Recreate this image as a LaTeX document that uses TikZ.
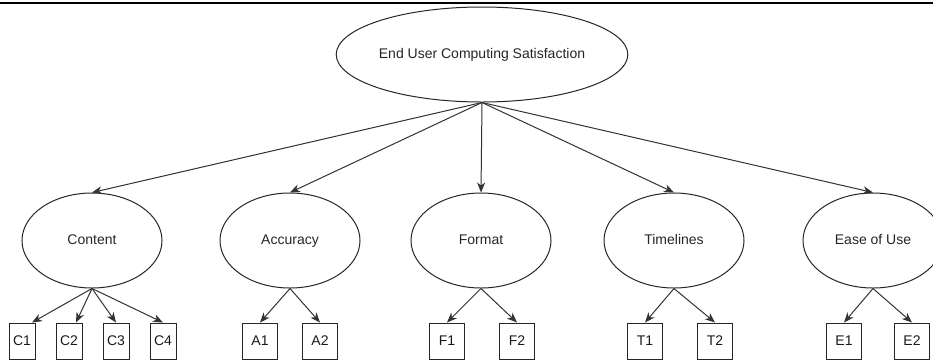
\documentclass[tikz,border=0pt]{standalone}
\usepackage{fontspec}
\setmainfont{Liberation Sans}
\usepackage{tikz}
\usetikzlibrary{arrows.meta,positioning,shapes.geometric}
\tikzset{
    >={Stealth[length=10pt,width=8pt,inset=3pt]},
    konstrukt/.style={
           ellipse,
           draw=black!85, line width=1pt,
           minimum width=140pt,
           minimum height=95pt,
           inner sep=0pt,
           text height=10pt, text depth=3pt,
           font=\fontsize{14}{16}\selectfont,
           text=black!85,
           text centered},
    indikator/.style={
           rectangle,
           draw=black!85, line width=1pt,
           minimum width=35pt,
           minimum height=36pt,
           inner sep=0pt,
           text=black!90,
           font=\fontsize{14}{16}\selectfont},
    smal/.style={
           indikator,
           minimum width=26pt},
    pil/.style={
           ->,
           line width=1pt,
           draw=black!80}
}

\begin{document}
\begin{tikzpicture}[x=1pt, y=-1pt]
        \useasboundingbox (0,0) rectangle (933,360);
        \draw[line width=2.5pt] (0,2.8) -- (933,2.8);
        \node[konstrukt, minimum width=280pt] (EUCS) at (482,54.5) {End User Computing Satisfaction};
        \node[konstrukt] (Con) at (92,240.5) {Content};
        \node[konstrukt] (Acc) at (290,240.5) {Accuracy};
        \node[konstrukt] (For) at (481,240.5) {Format};
        \node[konstrukt] (Tim) at (674,240.5) {Timelines};
        \node[konstrukt] (Eas) at (873,240.5) {Ease of Use};
        \node[smal] (C1) at (22,341) {C1};
        \node[smal] (C2) at (69,341) {C2};
        \node[smal] (C3) at (116,341) {C3};
        \node[smal] (C4) at (163,341) {C4};
        \node[indikator] (A1) at (260,341) {A1};
        \node[indikator] (A2) at (320,341) {A2};
        \node[indikator] (F1) at (447,341) {F1};
        \node[indikator] (F2) at (517,341) {F2};
        \node[indikator] (T1) at (645,341) {T1};
        \node[indikator] (T2) at (715,341) {T2};
        \node[indikator] (E1) at (844,341) {E1};
        \node[indikator] (E2) at (912,341) {E2};
        \draw[pil] (EUCS.south) -- (Con.north);
        \draw[pil] (EUCS.south) -- (Acc.north);
        \draw[pil] (EUCS.south) -- (For.north);
        \draw[pil] (EUCS.south) -- (Tim.north);
        \draw[pil] (EUCS.south) -- (Eas.north);
        \draw[pil] (Con.south) -- ([xshift=10pt]C1.north);
        \draw[pil] (Con.south) -- ([xshift=7pt]C2.north);
        \draw[pil] (Con.south) -- (C3.north);
        \draw[pil] (Con.south) -- (C4.north);
        \draw[pil] (Acc.south) -- (A1.north);
        \draw[pil] (Acc.south) -- (A2.north);
        \draw[pil] (For.south) -- (F1.north);
        \draw[pil] (For.south) -- (F2.north);
        \draw[pil] (Tim.south) -- (T1.north);
        \draw[pil] (Tim.south) -- (T2.north);
        \draw[pil] (Eas.south) -- (E1.north);
        \draw[pil] (Eas.south) -- (E2.north);
    \end{tikzpicture}
\end{document}
